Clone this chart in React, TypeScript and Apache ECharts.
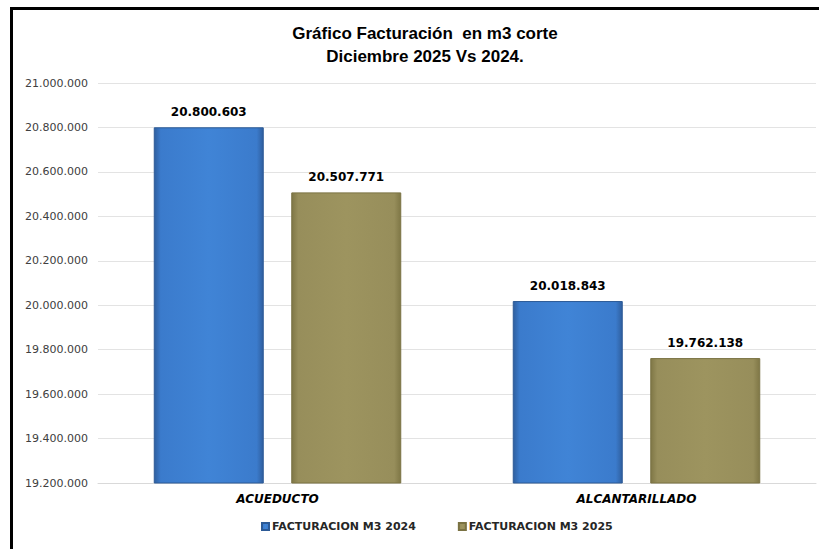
import React, { useEffect, useRef } from "react";
import * as echarts from "echarts";

const categories = ["ACUEDUCTO", "ALCANTARILLADO"];
const series2024 = [20800603, 20018843];
const series2025 = [20507771, 19762138];
const seriesNames = ["FACTURACION M3 2024", "FACTURACION M3 2025"];
const titleLines = ["Gráfico Facturación  en m3 corte", "Diciembre 2025 Vs 2024."];

const fmt = (v: number) => Math.round(v).toString().replace(/\B(?=(\d{3})+(?!\d))/g, ".");

export default function App() {
  const ref = useRef<HTMLDivElement>(null);
  useEffect(() => {
    if (!ref.current) return;
    const chart = echarts.init(ref.current, undefined, { renderer: "svg" });
    const blue = new echarts.graphic.LinearGradient(0, 0, 1, 0, [
      { offset: 0, color: "#2f5f9f" },
      { offset: 0.06, color: "#3b7bcc" },
      { offset: 0.5, color: "#4084d6" },
      { offset: 0.94, color: "#3b7bcc" },
      { offset: 1, color: "#2f5f9f" },
    ]);
    const olive = new echarts.graphic.LinearGradient(0, 0, 1, 0, [
      { offset: 0, color: "#7f7746" },
      { offset: 0.06, color: "#978e5b" },
      { offset: 0.5, color: "#9d945f" },
      { offset: 0.94, color: "#978e5b" },
      { offset: 1, color: "#7f7746" },
    ]);
    const labelCfg = {
      show: true,
      position: "top" as const,
      distance: 9,
      formatter: (p: any) => fmt(p.value),
      fontFamily: "DejaVu Sans",
      fontWeight: "bold" as const,
      fontSize: 12,
      color: "#000",
    };
    chart.setOption({
      animation: false,
      backgroundColor: "#fff",
      title: {
        text: titleLines.join("\n"),
        left: 420,
        top: 17,
        textAlign: "center",
        textStyle: {
          fontFamily: "Liberation Sans",
          fontWeight: "bold",
          fontSize: 17,
          lineHeight: 23,
          color: "#000",
        },
      },
      legend: {
        data: seriesNames,
        bottom: 12,
        left: 256,
        itemWidth: 7,
        itemHeight: 7,
        itemGap: 42,
        icon: "rect",
        textStyle: {
          fontFamily: "DejaVu Sans",
          fontWeight: "bold",
          fontSize: 11,
          color: "#262626",
          padding: [0, 0, 0, -2],
        },
      },
      grid: { left: 98, right: 3, top: 83, bottom: 66 },
      xAxis: {
        type: "category",
        data: categories,
        axisTick: { show: false },
        axisLine: { lineStyle: { color: "#d9d9d9" } },
        axisLabel: {
          margin: 10,
          fontFamily: "DejaVu Sans",
          fontWeight: "bold",
          fontStyle: "italic",
          fontSize: 12,
          color: "#000",
        },
      },
      yAxis: {
        type: "value",
        min: 19200000,
        max: 21000000,
        interval: 200000,
        axisLine: { show: false },
        axisTick: { show: false },
        splitLine: { lineStyle: { color: "#e3e3e3" } },
        axisLabel: {
          margin: 10,
          formatter: (v: number) => fmt(v),
          fontFamily: "DejaVu Sans",
          fontSize: 11,
          color: "#404040",
        },
      },
      series: [
        {
          name: seriesNames[0],
          type: "bar",
          data: series2024,
          barWidth: 110,
          barGap: "25%",
          itemStyle: { color: blue, borderColor: "#2c5a96", borderWidth: 1 },
          label: labelCfg,
        },
        {
          name: seriesNames[1],
          type: "bar",
          data: series2025,
          barWidth: 110,
          itemStyle: { color: olive, borderColor: "#7a7243", borderWidth: 1 },
          label: labelCfg,
        },
      ],
    });
    return () => chart.dispose();
  }, []);
  return (
    <div style={{ position: "fixed", left: 0, top: 0, width: 819, height: 549, overflow: "hidden", background: "#fff" }}>
      <div ref={ref} style={{ position: "absolute", left: 0, top: 0, width: 819, height: 549 }} />
      <div
        style={{
          position: "absolute",
          left: 10,
          top: 7,
          width: 900,
          height: 900,
          borderLeft: "3px solid #000",
          borderTop: "3px solid #000",
          pointerEvents: "none",
        }}
      />
    </div>
  );
}
